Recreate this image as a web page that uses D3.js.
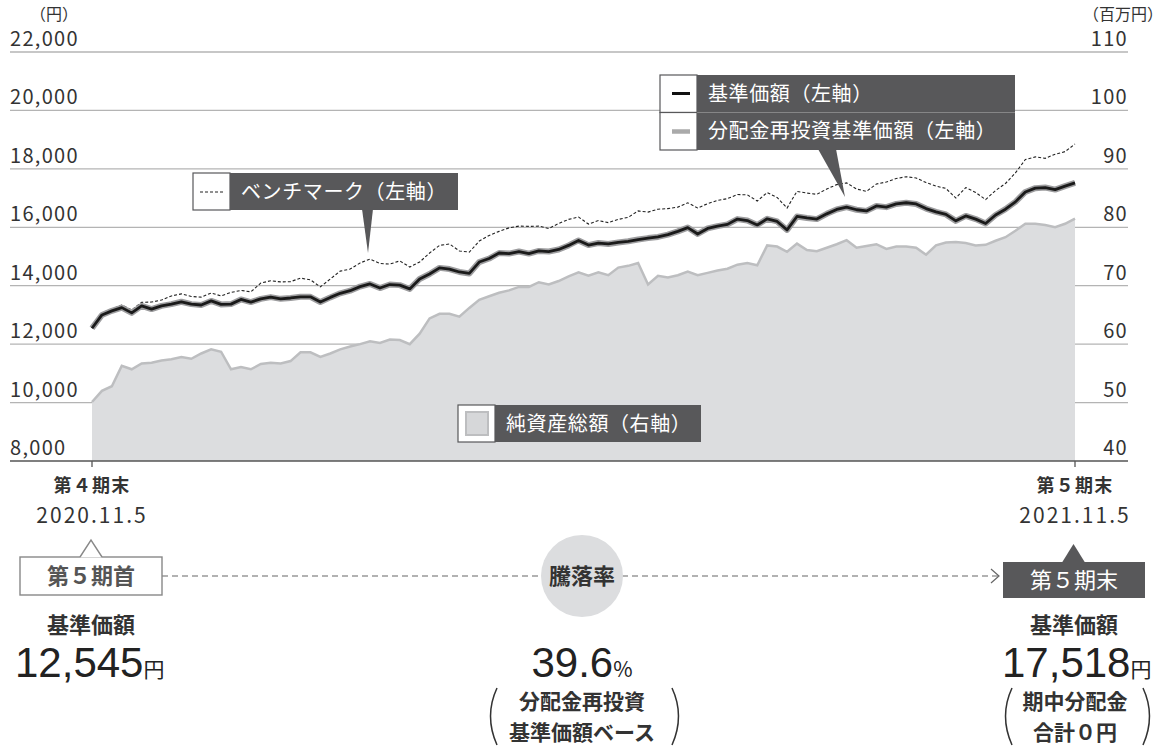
<!DOCTYPE html>
<html lang="ja">
<head>
<meta charset="utf-8">
<script src="https://cdn.jsdelivr.net/npm/d3@7"></script>
<style>
  body { margin: 0; background: #fff; }
  svg { display: block; font-family: "Noto Sans CJK JP", "Noto Sans", sans-serif; }
</style>
</head>
<body>
<svg width="1165" height="746"></svg>
<script>
// 基準価額（左軸, 円）
const baseNav = [
  12545, 13000, 13140, 13250, 13070, 13310, 13200, 13310, 13370, 13450,
  13370, 13340, 13480, 13360, 13370, 13530, 13440, 13550, 13610, 13550,
  13580, 13620, 13620, 13440, 13600, 13740, 13830, 13970, 14060, 13920,
  14040, 14020, 13890, 14230, 14400, 14610, 14570, 14470, 14420, 14810,
  14930, 15120, 15100, 15170, 15100, 15190, 15170, 15240, 15380, 15550,
  15390, 15460, 15430, 15480, 15520, 15580, 15630, 15670, 15750, 15860,
  15990, 15770, 15960, 16040, 16100, 16280, 16230, 16080, 16290, 16200,
  15910, 16370, 16320, 16280, 16460, 16610, 16690, 16600, 16560, 16730,
  16690, 16800, 16840, 16800, 16640, 16530, 16440, 16220, 16390, 16280,
  16130, 16420, 16620, 16870, 17210, 17340, 17360, 17290, 17410, 17518
];
// 分配金再投資基準価額（期中分配金0円のため基準価額と同じ）
const reinvestNav = baseNav;
// ベンチマーク（左軸, 円）
const benchmark = [
  12620, 13070, 13200, 13340, 13170, 13430, 13440, 13510, 13650, 13720,
  13630, 13610, 13750, 13650, 13770, 13840, 13790, 14090, 14170, 14130,
  14140, 14260, 14200, 13960, 14230, 14500, 14570, 14780, 14910, 14760,
  14740, 14850, 14640, 14810, 15120, 15380, 15430, 15190, 15150, 15530,
  15720, 15860, 15980, 16040, 16030, 16040, 15960, 16130, 16270, 16350,
  16110, 16230, 16160, 16270, 16340, 16560, 16520, 16620, 16640, 16690,
  16840, 16660, 16810, 16920, 16980, 17120, 17110, 16900, 17190, 17020,
  16660, 17230, 17170, 17130, 17310, 17460, 17520, 17310, 17230, 17480,
  17550, 17670, 17730, 17690, 17530, 17410, 17330, 17000, 17360, 17190,
  16950, 17260, 17500, 17860, 18320, 18410, 18360, 18500, 18590, 18850
];
// 純資産総額（右軸, 百万円）
const netAssets = [
  50.1, 52.0, 52.8, 56.3, 55.7, 56.7, 56.8, 57.2, 57.4, 57.8,
  57.5, 58.4, 59.1, 58.7, 55.7, 56.1, 55.7, 56.6, 56.8, 56.7,
  57.1, 58.6, 58.6, 57.8, 58.4, 59.1, 59.6, 60.0, 60.5, 60.2,
  60.8, 60.7, 60.0, 61.8, 64.4, 65.2, 65.2, 64.7, 66.2, 67.6,
  68.2, 68.8, 69.2, 69.8, 69.8, 70.6, 70.2, 70.8, 71.6, 72.3,
  71.7, 72.3, 71.8, 73.1, 73.4, 73.9, 70.2, 71.7, 71.4, 71.8,
  72.4, 71.8, 72.2, 72.6, 72.9, 73.6, 73.9, 73.5, 76.9, 76.7,
  75.8, 77.2, 76.1, 75.9, 76.5, 77.1, 77.8, 76.5, 76.8, 77.1,
  76.3, 76.7, 76.7, 76.5, 75.3, 76.9, 77.4, 77.5, 77.3, 76.9,
  77.0, 77.7, 78.3, 79.4, 80.6, 80.6, 80.4, 80.0, 80.6, 81.5
];
const leftTicks = [8000, 10000, 12000, 14000, 16000, 18000, 20000, 22000];
const rightTicks = [40, 50, 60, 70, 80, 90, 100, 110];
const periodNames = ["第４期末", "第５期末"];
const periodDates = ["2020.11.5", "2021.11.5"];
const startNav = 12545, endNav = 17518, changeRate = 39.6;

const svg = d3.select("svg");
const dark = "#58585a", ink = "#333";
const n = baseNav.length;

const x = d3.scaleLinear().domain([0, n - 1]).range([92, 1075]);
const yL = d3.scaleLinear().domain([8000, 22000]).range([461, 52]);
const yR = d3.scaleLinear().domain([40, 110]).range([461, 52]);
const fmt = d3.format(",");

// grid
const grid = svg.append("g");
grid.selectAll("line").data(leftTicks.slice(1)).enter().append("line")
  .attr("x1", 10).attr("x2", 1128)
  .attr("y1", d => yL(d)).attr("y2", d => yL(d))
  .attr("stroke", "#b4b4b4").attr("stroke-width", 1.3);

// net assets area
const area = d3.area().x((d, i) => x(i)).y0(yR(40)).y1(d => yR(d));
svg.append("path").datum(netAssets).attr("d", area).attr("fill", "#dcdddf");
svg.append("path").datum(netAssets)
  .attr("d", d3.line().x((d, i) => x(i)).y(d => yR(d)))
  .attr("fill", "none").attr("stroke", "#bdbec0").attr("stroke-width", 2.5);

const line = d3.line().x((d, i) => x(i)).y(d => yL(d));
svg.append("path").datum(benchmark).attr("d", line)
  .attr("fill", "none").attr("stroke", "#222").attr("stroke-width", 1.1)
  .attr("stroke-dasharray", "3,2");
svg.append("path").datum(reinvestNav).attr("d", line)
  .attr("fill", "none").attr("stroke", "#9d9d9f").attr("stroke-width", 6)
  .attr("stroke-linejoin", "round");
svg.append("path").datum(baseNav).attr("d", line)
  .attr("fill", "none").attr("stroke", "#1a1a1a").attr("stroke-width", 2.8)
  .attr("stroke-linejoin", "round");

// baseline + ticks
svg.append("line").attr("x1", 10).attr("x2", 1128)
  .attr("y1", yL(8000)).attr("y2", yL(8000))
  .attr("stroke", "#555").attr("stroke-width", 1.6);
svg.selectAll(".tk").data([0, n - 1]).enter().append("line")
  .attr("x1", d => x(d)).attr("x2", d => x(d))
  .attr("y1", yL(8000)).attr("y2", yL(8000) + 6)
  .attr("stroke", "#555").attr("stroke-width", 1.3);

// axis labels
svg.selectAll(".ll").data(leftTicks).enter().append("text")
  .attr("x", 10).attr("y", d => yL(d) - 6)
  .attr("font-size", 20).attr("letter-spacing", 1.3).attr("fill", ink)
  .text(d => fmt(d));
svg.selectAll(".rl").data(rightTicks).enter().append("text")
  .attr("x", 1128).attr("y", d => yR(d) - 6).attr("text-anchor", "end")
  .attr("font-size", 20).attr("letter-spacing", 1.3).attr("fill", ink)
  .text(d => d);
svg.append("text").attr("x", 30).attr("y", 20).attr("font-size", 16).attr("fill", ink).text("（円）");
svg.append("text").attr("x", 1163).attr("y", 20).attr("text-anchor", "end")
  .attr("font-size", 16).attr("fill", ink).text("（百万円）");

// legends
function tag(g, x0, y0, w, h, label) {
  g.append("rect").attr("x", x0).attr("y", y0).attr("width", 37).attr("height", h)
    .attr("fill", "#fff").attr("stroke", dark).attr("stroke-width", 1.2);
  g.append("rect").attr("x", x0 + 37).attr("y", y0).attr("width", w - 37).attr("height", h)
    .attr("fill", dark);
  g.append("text").attr("x", x0 + 48).attr("y", y0 + h / 2 + 7)
    .attr("font-size", 20).attr("letter-spacing", 0.6).attr("fill", "#fff").text(label);
}
const lg = svg.append("g");
tag(lg, 193, 173, 265, 37, "ベンチマーク（左軸）");
lg.append("path").attr("d", "M362,209 L373,209 L368,253 Z").attr("fill", dark);
lg.append("line").attr("x1", 200).attr("x2", 224).attr("y1", 192).attr("y2", 192)
  .attr("stroke", "#222").attr("stroke-width", 1.1).attr("stroke-dasharray", "3,2");

tag(lg, 660, 75, 355, 37.5, "基準価額（左軸）");
tag(lg, 660, 112.5, 355, 37.5, "分配金再投資基準価額（左軸）");
lg.append("line").attr("x1", 697).attr("x2", 1015).attr("y1", 112.5).attr("y2", 112.5)
  .attr("stroke", "#888").attr("stroke-width", 0.8);
lg.append("path").attr("d", "M818,149 L836,149 L845,197 Z").attr("fill", dark);
lg.append("line").attr("x1", 672).attr("x2", 690).attr("y1", 93.5).attr("y2", 93.5)
  .attr("stroke", "#111").attr("stroke-width", 3);
lg.append("line").attr("x1", 672).attr("x2", 690).attr("y1", 131.5).attr("y2", 131.5)
  .attr("stroke", "#aaa").attr("stroke-width", 4.5);

tag(lg, 458, 405, 243, 37, "純資産総額（右軸）");
lg.append("rect").attr("x", 466).attr("y", 412).attr("width", 22).attr("height", 23)
  .attr("fill", "#d6d7d9").attr("stroke", "#bdbec0").attr("stroke-width", 2);

// period labels under axis
const pl = svg.append("g").attr("text-anchor", "middle").attr("fill", ink);
pl.selectAll(".pn").data(periodNames).enter().append("text")
  .attr("x", (d, i) => x(i * (n - 1))).attr("y", 492)
  .attr("font-size", 18).attr("letter-spacing", 1.2).attr("font-weight", "bold").attr("fill", ink).text(d => d);
pl.selectAll(".pd").data(periodDates).enter().append("text")
  .attr("x", (d, i) => x(i * (n - 1))).attr("y", 523)
  .attr("font-size", 21).attr("letter-spacing", 2).attr("fill", ink).text(d => d);

// connector
const b = svg.append("g");
b.append("line").attr("x1", 162).attr("x2", 998).attr("y1", 576).attr("y2", 576)
  .attr("stroke", "#666").attr("stroke-width", 1.2).attr("stroke-dasharray", "6,4");
b.append("path").attr("d", "M991,569 L999,576 L991,583").attr("fill", "none")
  .attr("stroke", "#666").attr("stroke-width", 1.2);

// start box
b.append("rect").attr("x", 20).attr("y", 557).attr("width", 142).attr("height", 38)
  .attr("fill", "#fff").attr("stroke", "#888").attr("stroke-width", 1.4);
b.append("path").attr("d", "M80,557.6 L91,540 L102,557.6 Z").attr("fill", "#fff");
b.append("path").attr("d", "M80,557 L91,540 L102,557").attr("fill", "none")
  .attr("stroke", "#888").attr("stroke-width", 1.4);
b.append("text").attr("x", 91).attr("y", 584).attr("text-anchor", "middle")
  .attr("font-size", 22).attr("font-weight", "bold").attr("fill", "#555").text("第５期首");

// end box
b.append("rect").attr("x", 1003).attr("y", 562).attr("width", 142).attr("height", 36).attr("fill", dark);
b.append("path").attr("d", "M1062,562.5 L1073.5,544 L1085,562.5 Z").attr("fill", dark);
b.append("text").attr("x", 1074).attr("y", 588).attr("text-anchor", "middle")
  .attr("font-size", 22).attr("fill", "#fff").text("第５期末");

// circle
b.append("circle").attr("cx", 582).attr("cy", 576).attr("r", 41).attr("fill", "#dcdddf");
b.append("text").attr("x", 582).attr("y", 584).attr("text-anchor", "middle")
  .attr("font-size", 22).attr("font-weight", "bold").attr("fill", ink).text("騰落率");

// values
b.selectAll(".vh").data([91, 1074]).enter().append("text")
  .attr("x", d => d).attr("y", 633).attr("text-anchor", "middle")
  .attr("font-size", 22).attr("font-weight", "bold").attr("fill", ink).text("基準価額");

function bigValue(xx, anchor, num, unit) {
  const t = b.append("text").attr("x", xx).attr("y", 677).attr("text-anchor", anchor).attr("fill", "#222");
  t.append("tspan").attr("font-family", "'Liberation Sans', Arial, sans-serif").attr("font-size", 42).text(num);
  t.append("tspan").attr("font-size", 21).text(unit);
}
bigValue(15, "start", fmt(startNav), "円");
bigValue(1002, "start", fmt(endNav), "円");
bigValue(582, "middle", changeRate.toFixed(1), "%");

function noteLines(cx, lines) {
  lines.forEach((s, i) => {
    b.append("text").attr("x", cx).attr("y", 709 + i * 31).attr("text-anchor", "middle")
      .attr("font-size", 21).attr("font-weight", "bold").attr("fill", ink).text(s);
  });
}
noteLines(582, ["分配金再投資", "基準価額ベース"]);
noteLines(1075, ["期中分配金", "合計０円"]);

function paren(px, dir) {
  b.append("path")
    .attr("d", `M${px},688 Q${px - dir * 13},716 ${px},745`)
    .attr("fill", "none").attr("stroke", ink).attr("stroke-width", 1.5);
}
paren(497, 1); paren(672, -1);
paren(1012, 1); paren(1143, -1);
</script>
</body>
</html>
